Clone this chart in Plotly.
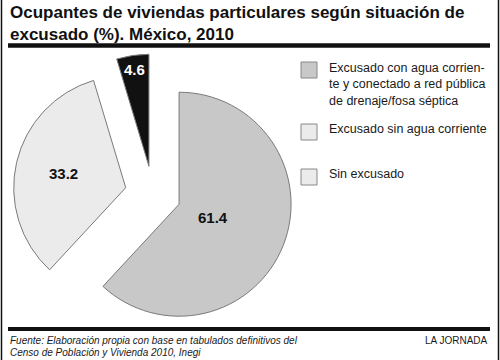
import math
import plotly.graph_objects as go

# ---- data ----
categories = [
    "Excusado con agua corriente y conectado a red pública de drenaje/fosa séptica",
    "Excusado sin agua corriente",
    "Sin excusado",
]
legend_labels = [
    "Excusado con agua corrien-<br>te y conectado a red pública<br>de drenaje/fosa séptica",
    "Excusado sin agua corriente",
    "Sin excusado",
]
values = [61.4, 33.2, 4.6]
value_labels = ["61.4", "33.2", "4.6"]

title_text = "Ocupantes de viviendas particulares según situación de<br>excusado (%). México, 2010"
source_lines = ["Fuente: Elaboración propia con base en tabulados definitivos del",
                "Censo de Población y Vivienda 2010, Inegi"]
brand_text = "LA JORNADA"

# ---- styles ----
slice_colors = ["#c8c8c8", "#ebebeb", "#111111"]
legend_box_colors = ["#c8c8c8", "#ebebeb", "#ebebeb"]
label_colors = ["#111111", "#111111", "#ffffff"]
label_frac = [0.33, 0.57, 0.87]
pull = 0.25
FONT = "Liberation Sans, Arial, Helvetica, sans-serif"
W, H = 500, 360

# pie geometry (pixels)
cx, cy, R = 153, 194, 112
ext = R * (1 + pull)
dom_x = [(cx - ext) / W, (cx + ext) / W]
dom_y = [1 - (cy + ext) / H, 1 - (cy - ext) / H]

fig = go.Figure()
fig.add_trace(go.Pie(
    labels=categories,
    values=values,
    sort=False,
    direction="clockwise",
    rotation=0,
    pull=[pull] * len(values),
    marker=dict(colors=slice_colors, line=dict(color="#7a7a7a", width=1)),
    textinfo="none",
    hoverinfo="label+value",
    showlegend=False,
    domain=dict(x=dom_x, y=dom_y),
))

annotations = []
shapes = []

# value labels positioned from the slice angles
total = sum(values)
start = 0.0
for v, txt, col, f in zip(values, value_labels, label_colors, label_frac):
    ang = 360.0 * v / total
    mid = math.radians(start + ang / 2)
    dx, dy = math.sin(mid), -math.cos(mid)
    rr = R * pull + R * f
    px, py = cx + dx * rr, cy + dy * rr
    annotations.append(dict(x=px / W, y=1 - py / H, xref="paper", yref="paper",
                            text="<b>%s</b>" % txt, showarrow=False,
                            font=dict(family=FONT, size=15, color=col),
                            xanchor="center", yanchor="middle"))
    start += ang

# title
annotations.append(dict(x=8 / W, y=1 - 1 / H, xref="paper", yref="paper",
                        text="<b>%s</b>" % title_text, showarrow=False, align="left",
                        xanchor="left", yanchor="top",
                        font=dict(family=FONT, size=17, color="#111111")))

# legend (custom)
legend_y = [62, 124, 169]
for lab, col, y0 in zip(legend_labels, legend_box_colors, legend_y):
    shapes.append(dict(type="rect", xref="paper", yref="paper",
                       x0=301 / W, x1=317 / W, y0=1 - y0 / H, y1=1 - (y0 + 16) / H,
                       fillcolor=col, line=dict(color="#888888", width=1)))
    annotations.append(dict(x=327 / W, y=1 - (y0 - 3.5) / H, xref="paper", yref="paper",
                            text=lab, showarrow=False, align="left",
                            xanchor="left", yanchor="top",
                            font=dict(family=FONT, size=12.5, color="#1a1a1a")))

# footer
for line, yc in zip(source_lines, [340, 352]):
    annotations.append(dict(x=8 / W, y=1 - yc / H, xref="paper", yref="paper",
                            text="<i>%s</i>" % line, showarrow=False, align="left",
                            xanchor="left", yanchor="middle",
                            font=dict(family=FONT, size=10, color="#1a1a1a")))
annotations.append(dict(x=490 / W, y=1 - 340 / H, xref="paper", yref="paper",
                        text=brand_text, showarrow=False, align="right",
                        xanchor="right", yanchor="middle",
                        font=dict(family=FONT, size=10, color="#1a1a1a")))

# rules and border
shapes.append(dict(type="line", xref="paper", yref="paper", x0=8 / W, x1=490 / W,
                   y0=1 - 45.5 / H, y1=1 - 45.5 / H, line=dict(color="#111111", width=4.5)))
shapes.append(dict(type="line", xref="paper", yref="paper", x0=8 / W, x1=490 / W,
                   y0=1 - 329 / H, y1=1 - 329 / H, line=dict(color="#111111", width=4)))
for xb in (1.5, 498.5):
    shapes.append(dict(type="line", xref="paper", yref="paper", x0=xb / W, x1=xb / W,
                       y0=0, y1=1, line=dict(color="#111111", width=1.5)))

fig.update_layout(
    width=W, height=H,
    margin=dict(l=0, r=0, t=0, b=0),
    paper_bgcolor="white", plot_bgcolor="white",
    annotations=annotations, shapes=shapes,
    showlegend=False,
)

fig.write_html("out.html",
               config={"displayModeBar": False},
               post_script="document.body.style.margin='0';document.body.style.overflow='hidden';")
